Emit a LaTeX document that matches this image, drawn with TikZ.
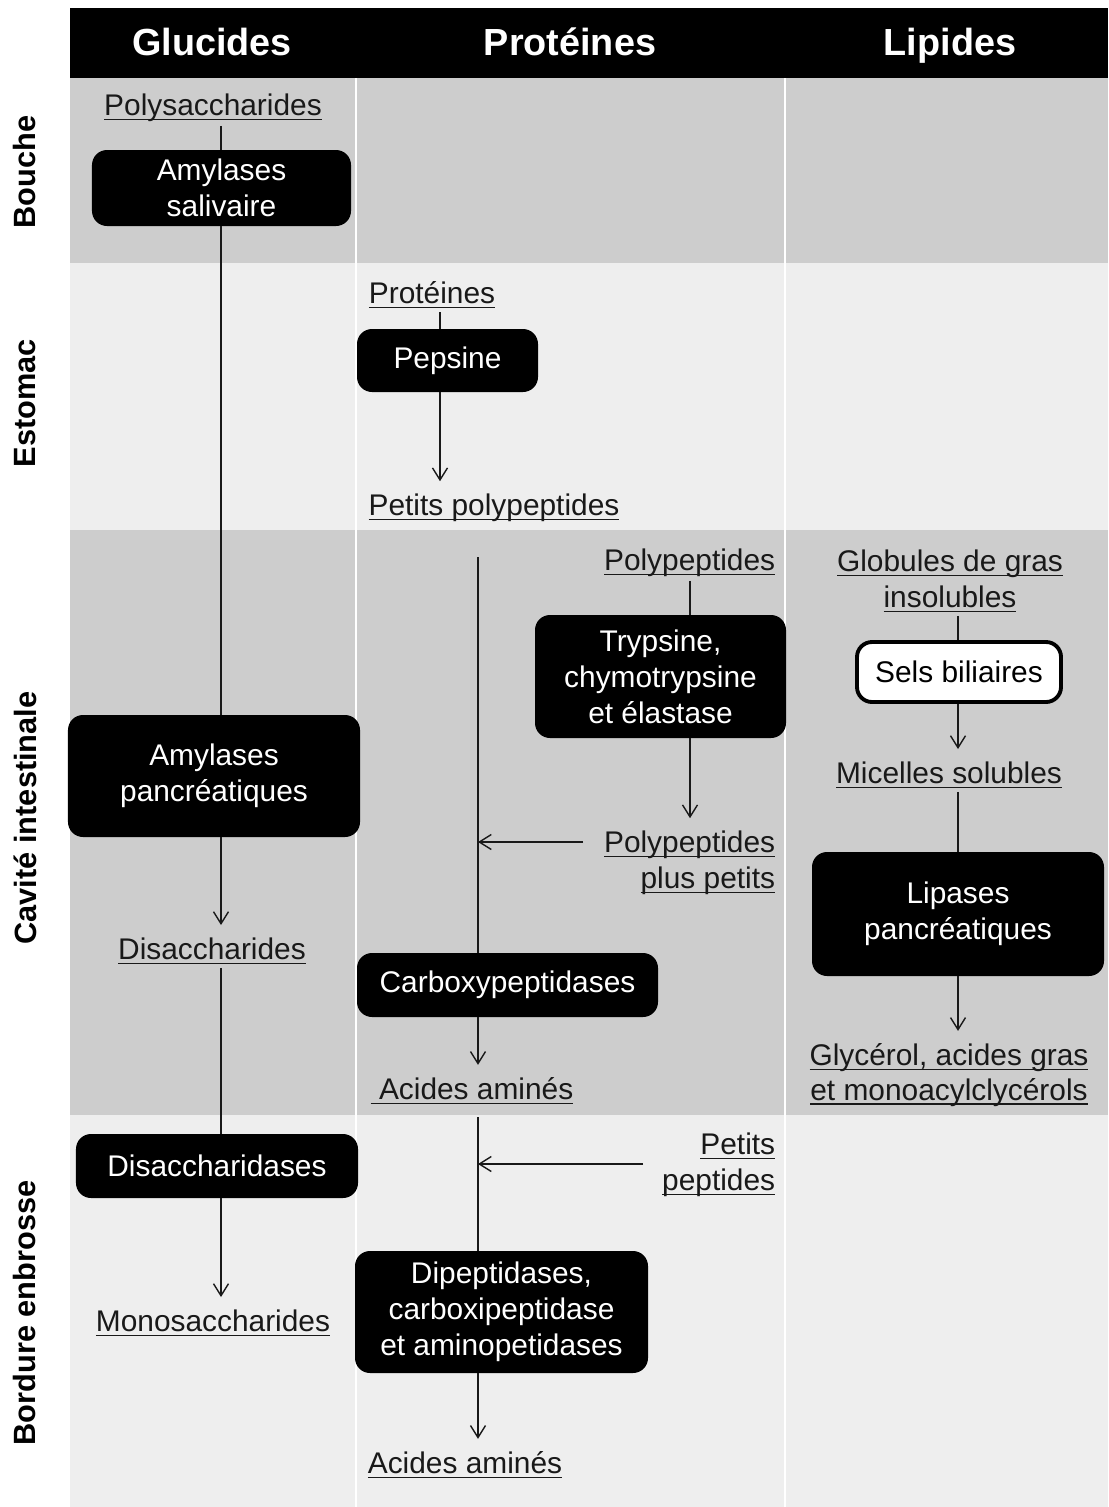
\documentclass[tikz,border=0pt]{standalone}
\usepackage{fontspec}
\setmainfont{Liberation Sans}
\usetikzlibrary{arrows.meta}
\definecolor{rowdark}{RGB}{205,205,205}
\definecolor{rowlight}{RGB}{238,238,238}
\definecolor{inkgray}{RGB}{25,25,25}
\newcommand{\undl}[1]{\setbox0\hbox{#1}\rlap{\rule[-2.6pt]{\wd0}{0.9pt}}\box0}
\begin{document}
\begin{tikzpicture}[x=0.2mm,y=-0.2mm,
    enzyme/.style={fill=black,text=white,rounded corners=3mm,align=center,inner sep=2pt,
      font=\fontsize{17}{20.5}\selectfont},
    selbox/.style={enzyme,fill=white,text=black,draw=black,line width=2.2pt},
    subst/.style={text=inkgray,inner sep=2pt,align=center,font=\fontsize{17}{20.5}\selectfont},
    colhead/.style={anchor=base,text=white,font=\bfseries\fontsize{21.5}{26}\selectfont},
    rowlab/.style={rotate=90,text=black,font=\bfseries\fontsize{17.5}{21}\selectfont},
    link/.style={line width=0.8pt,draw=inkgray},
    arr/.style={link,-{Straight Barb[length=2.4mm,width=3mm]},shorten >=1.8mm}]
  \useasboundingbox (0,0) rectangle (1108,1507);
  \fill[white] (0,0) rectangle (1108,1507);
  \fill[black] (70,8) rectangle (1108,78);
  \fill[rowdark] (70,78) rectangle (1108,263);
  \fill[rowlight] (70,263) rectangle (1108,530);
  \fill[rowdark] (70,530) rectangle (1108,1115);
  \fill[rowlight] (70,1115) rectangle (1108,1507);
  \draw[white,line width=1pt] (356,78) -- (356,1507) (785,78) -- (785,1507);

  \node[colhead] (hglu) at (212,55) {Glucides};
  \node[colhead] (hpro) at (570,55) {Protéines};
  \node[colhead] (hlip) at (950,55) {Lipides};
  \node[rowlab] (rbou) at (25,172) {Bouche};
  \node[rowlab] (rest) at (25,403) {Estomac};
  \node[rowlab] (rcav) at (25,818) {Cavité intestinale};
  \node[rowlab] (rbor) at (25,1313) {Bordure enbrosse};

  \coordinate (gx) at (221,0);
  \node[subst] (polysac) at (213,108) {\undl{Polysaccharides}};
  \node[enzyme,minimum width=5.18cm,minimum height=1.52cm] (amysal) at (221.5,188) {Amylases\\salivaire};
  \node[enzyme,minimum width=5.84cm,minimum height=2.44cm] (amypan) at (214,776) {Amylases\\pancréatiques};
  \node[subst] (disac) at (212,951) {\undl{Disaccharides}};
  \node[enzyme,minimum width=5.64cm,minimum height=1.28cm] (disase) at (217,1166) {Disaccharidases};
  \node[subst] (monosac) at (213,1323) {\undl{Monosaccharides}};
  \draw[link] (polysac.south -| gx) -- (amysal.north -| gx);
  \draw[link] (amysal.south -| gx) -- (amypan.north -| gx);
  \draw[arr] (amypan.south -| gx) -- (disac.north -| gx);
  \draw[link] (disac.south -| gx) -- (disase.north -| gx);
  \draw[arr] (disase.south -| gx) -- (monosac.north -| gx);

  \coordinate (px) at (440,0);
  \node[subst] (prot) at (432,295) {\undl{Protéines}};
  \node[enzyme,minimum width=3.62cm,minimum height=1.26cm] (peps) at (447.5,360.5) {Pepsine};
  \node[subst] (ppoly) at (494,508) {\undl{Petits polypeptides}};
  \draw[link] (prot.south -| px) -- (peps.north -| px);
  \draw[arr] (peps.south -| px) -- (ppoly.north -| px);

  \coordinate (cvtop) at (478,557);
  \coordinate (tx) at (690,0);
  \coordinate (ppin) at (583,842);
  \node[subst,anchor=east] (poly) at (779,563) {\undl{Polypeptides}};
  \node[enzyme,minimum width=5.02cm,minimum height=2.46cm] (tryp) at (660.5,676.5) {Trypsine,\\chymotrypsine\\et élastase};
  \node[subst,anchor=east,align=right] (polyp) at (779,863) {\undl{Polypeptides}\\\undl{plus petits}};
  \node[enzyme,minimum width=6.02cm,minimum height=1.28cm] (carbox) at (507.5,985) {Carboxypeptidases};
  \node[subst] (aa1) at (472,1091) {\undl{\ Acides aminés}};
  \draw[link] (poly.south -| tx) -- (tryp.north -| tx);
  \draw[arr] (tryp.south -| tx) -- (polyp.north -| tx);
  \draw[link] (cvtop) -- (carbox.north -| cvtop);
  \draw[arr,shorten >=0pt] (ppin) -- (ppin -| cvtop);
  \draw[arr] (carbox.south -| cvtop) -- (aa1.north -| cvtop);

  \coordinate (bbtop) at (478,1117);
  \coordinate (pepin) at (643,1164);
  \node[subst,anchor=east,align=right] (pept) at (779,1165) {\undl{Petits}\\\undl{peptides}};
  \node[enzyme,minimum width=5.86cm,minimum height=2.44cm] (dipep) at (501.5,1312) {Dipeptidases,\\carboxipeptidase\\et aminopetidases};
  \node[subst] (aa2) at (465,1465) {\undl{Acides aminés}};
  \draw[link] (bbtop) -- (dipep.north -| bbtop);
  \draw[arr,shorten >=0pt] (pepin) -- (pepin -| bbtop);
  \draw[arr] (dipep.south -| bbtop) -- (aa2.north -| bbtop);

  \coordinate (lx) at (958,0);
  \node[subst] (glob) at (950,581) {\undl{Globules de gras}\\\undl{insolubles}};
  \node[selbox,minimum width=4.08cm,minimum height=1.2cm] (sels) at (959,672) {Sels biliaires};
  \node[subst] (mic) at (949,775) {\undl{Micelles solubles}};
  \node[enzyme,minimum width=5.84cm,minimum height=2.48cm] (lipa) at (958,914) {Lipases\\pancréatiques};
  \node[subst,font=\fontsize{17}{19.5}\selectfont] (glyc) at (949,1075) {\undl{Glycérol, acides gras}\\\undl{et monoacylclycérols}};
  \draw[link] (glob.south -| lx) -- (sels.north -| lx);
  \draw[arr] (sels.south -| lx) -- (mic.north -| lx);
  \draw[link] (mic.south -| lx) -- (lipa.north -| lx);
  \draw[arr] (lipa.south -| lx) -- (glyc.north -| lx);
\end{tikzpicture}
\end{document}
